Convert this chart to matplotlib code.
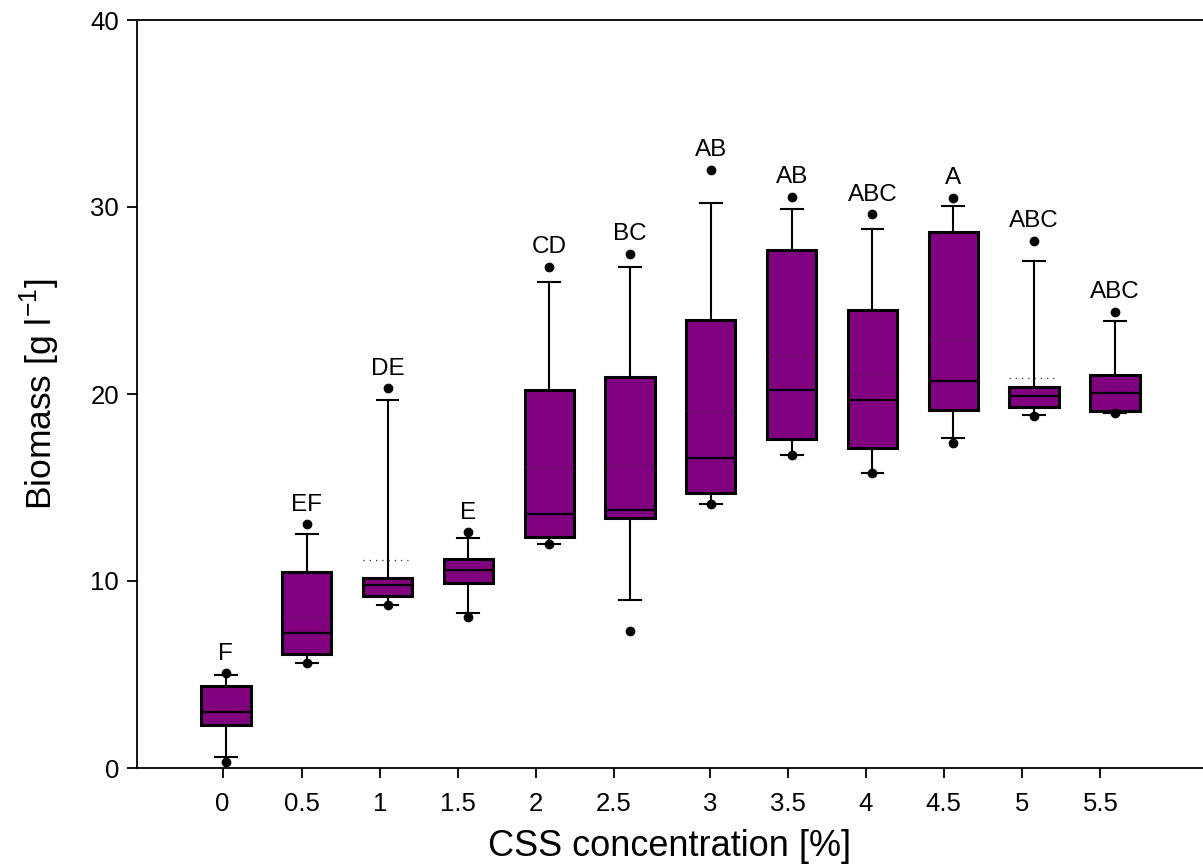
import numpy as np
import matplotlib.pyplot as plt

plt.rcParams['font.family'] = ['Liberation Sans', 'DejaVu Sans']
plt.rcParams['mathtext.fontset'] = 'custom'
plt.rcParams['mathtext.rm'] = 'Liberation Sans'

# CSS concentration groups and biomass summary statistics (g/l)
conc = ['0', '0.5', '1', '1.5', '2', '2.5', '3', '3.5', '4', '4.5', '5', '5.5']
whisker_low = [0.6, 5.6, 8.7, 8.3, 12.0, 9.0, 14.1, 16.75, 15.8, 17.65, 18.9, 19.0]
q1 = [2.3, 6.1, 9.2, 9.9, 12.35, 13.35, 14.7, 17.6, 17.1, 19.15, 19.3, 19.1]
median = [3.0, 7.2, 9.8, 10.6, 13.6, 13.8, 16.6, 20.2, 19.7, 20.7, 19.9, 20.05]
mean = [3.3, 8.1, 11.1, 10.5, 16.1, 16.15, 19.1, 22.1, 21.1, 22.9, 20.85, 20.4]
q3 = [4.38, 10.5, 10.15, 11.2, 20.2, 20.9, 23.95, 27.7, 24.5, 28.65, 20.4, 21.0]
whisker_high = [4.97, 12.5, 19.7, 12.3, 26.0, 26.8, 30.2, 29.9, 28.8, 30.05, 27.1, 23.9]
point_low = [0.32, 5.6, 8.7, 8.1, 12.0, 7.3, 14.1, 16.75, 15.8, 17.4, 18.8, 19.0]
point_high = [5.08, 13.05, 20.3, 12.6, 26.8, 27.5, 32.0, 30.55, 29.6, 30.5, 28.2, 24.4]
letters = ['F', 'EF', 'DE', 'E', 'CD', 'BC', 'AB', 'AB', 'ABC', 'A', 'ABC', 'ABC']

stats = []
for i in range(len(conc)):
    stats.append({
        'whislo': whisker_low[i], 'q1': q1[i], 'med': median[i], 'mean': mean[i],
        'q3': q3[i], 'whishi': whisker_high[i],
        'fliers': [point_low[i], point_high[i]],
    })

fig = plt.figure(figsize=(12.03, 8.66), dpi=100)
ax = fig.add_axes([137 / 1203, 98 / 866, 1 - 137 / 1203, 748 / 866])

box_pos = np.arange(len(conc))
purple = '#800080'
ax.bxp(stats, positions=box_pos, widths=0.61, capwidths=0.27,
       patch_artist=True, showmeans=True, meanline=True, showfliers=True,
       boxprops=dict(facecolor=purple, edgecolor='black', linewidth=2.2),
       medianprops=dict(color='black', linewidth=1.6),
       meanprops=dict(color='#333333', linestyle=(0, (1, 4)), linewidth=0.9),
       whiskerprops=dict(color='black', linewidth=1.5),
       capprops=dict(color='black', linewidth=1.5),
       flierprops=dict(marker='o', markerfacecolor='black', markeredgecolor='black',
                       markersize=6, linestyle='none'))

# significance letters above the upper points
for x, top, lab in zip(box_pos, point_high, letters):
    ax.annotate(lab, (x, top), xytext=(0, 14), textcoords='offset points',
                ha='center', va='center', fontsize=17.5)

ax.set_xlim(-1.10, 12.09)
ax.set_ylim(0, 40)
ax.set_yticks([0, 10, 20, 30, 40])

# category ticks sit slightly off the box centres
tick_pos = [-0.04, 0.94, 1.91, 2.87, 3.84, 4.80, 5.99, 6.96, 7.92, 8.88, 9.85, 10.82]
ax.set_xticks(tick_pos)
ax.set_xticklabels(conc)
ax.tick_params(axis='both', direction='out', length=7, width=1.3, labelsize=18.5)
ax.tick_params(axis='x', pad=10)
ax.tick_params(axis='y', pad=6)

ax.spines['right'].set_visible(False)
for s in ['left', 'bottom', 'top']:
    ax.spines[s].set_linewidth(1.3)

ax.set_xlabel('CSS concentration [%]', fontsize=26, labelpad=10)
ax.set_ylabel(r'Biomass [g l$^{-1}$]', fontsize=25.5, labelpad=20)

fig.savefig('out.png', dpi=100)
